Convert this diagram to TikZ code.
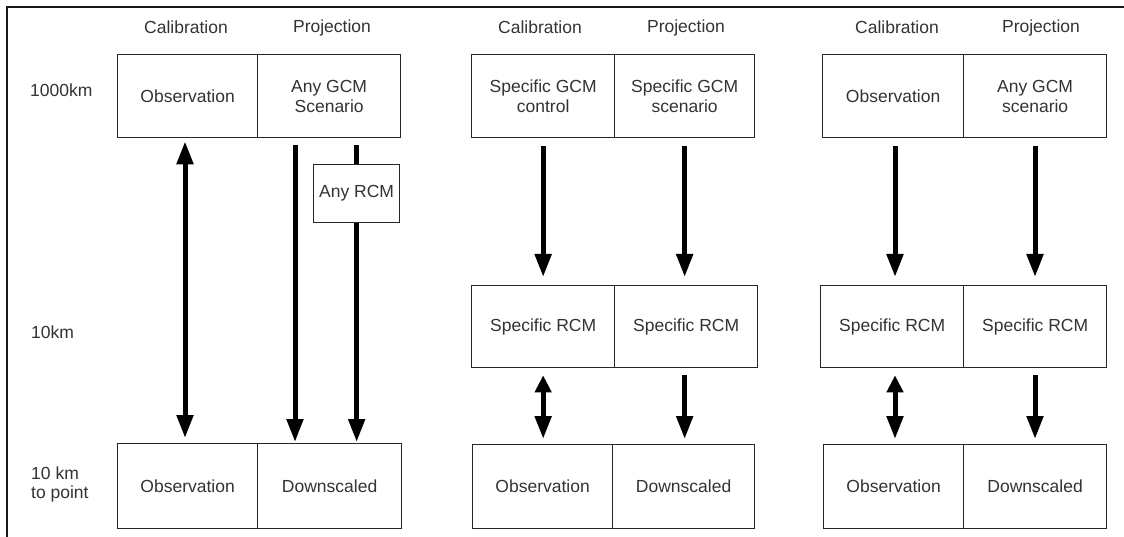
\documentclass[tikz,border=0pt]{standalone}
\usepackage{fontspec}
\setmainfont{Liberation Sans}
\usetikzlibrary{arrows.meta}
\begin{document}
\begin{tikzpicture}[x=1pt,y=-1pt,
  lbl/.style={text=black!80, font=\fontsize{17.5}{20}\selectfont, inner sep=0pt, align=left},
  box/.style={draw=black!85, line width=1.3pt, fill=white, minimum height=#1, inner sep=0pt,
    align=center, text=black!80, font=\fontsize{17.5}{20}\selectfont, anchor=north west},
  box/.default=83pt,
  arr/.style={line width=5pt, -{Triangle[width=16pt,length=23pt]}},
  plain/.style={line width=5pt},
  dbl/.style={line width=5pt, {Triangle[width=16pt,length=23pt]}-{Triangle[width=16pt,length=23pt]}},
  sdbl/.style={line width=5pt, {Triangle[width=16pt,length=17pt]}-{Triangle[width=16pt,length=23pt]}}]
\useasboundingbox (0,0) rectangle (1124,537);
% frame
\coordinate (fa) at (1124,7);
\coordinate (fc) at (7,7);
\coordinate (fb) at (7,537);
\draw[line width=2pt, black!90] (fa) -- (fc) -- (fb);

% row labels
\node[lbl, anchor=west] (l1) at (30,90) {1000km};
\node[lbl, anchor=west] (l2) at (31,332) {10km};
\node[lbl, anchor=west] (l3) at (31,484) {10 km\\[-1pt]to point};

% column headings
\node[lbl] (h1a) at (186,27) {Calibration};
\node[lbl] (h1b) at (332,28) {Projection};
\node[lbl] (h2a) at (540,27) {Calibration};
\node[lbl] (h2b) at (686,28) {Projection};
\node[lbl] (h3a) at (897,27) {Calibration};
\node[lbl] (h3b) at (1041,28) {Projection};

% ---------- panel 1 ----------
\node[box, minimum width=140pt] (p1obs) at (117,54) {Observation};
\node[box, minimum width=143pt] (p1gcm) at (257,54) {Any GCM\\Scenario};
\node[box=85pt, minimum width=140pt] (p1obsb) at (117,443) {Observation};
\node[box=85pt, minimum width=144pt] (p1down) at (257,443) {Downscaled};
\node[box=58pt, minimum width=86pt] (rcm) at (313,164) {Any RCM};
\coordinate (x185) at (185,0);
\coordinate (x295) at (295,0);
\draw[dbl, shorten <=3pt, shorten >=5pt] (p1obs.south -| x185) -- (p1obsb.north -| x185);
\draw[arr, shorten <=7pt, shorten >=1pt] (p1gcm.south -| x295) -- (p1down.north -| x295);
\draw[plain, shorten <=7pt] (p1gcm.south -| rcm) -- (rcm.north);
\draw[arr, shorten >=1pt] (rcm.south) -- (p1down.north -| rcm);

% ---------- panel 2 ----------
\node[box, minimum width=143pt] (p2ctl) at (471,54) {Specific GCM\\control};
\node[box, minimum width=140pt] (p2scn) at (614,54) {Specific GCM\\scenario};
\node[box=82pt, minimum width=143pt] (p2rcma) at (471,285) {Specific RCM};
\node[box=82pt, minimum width=143pt] (p2rcmb) at (614,285) {Specific RCM};
\node[box=84pt, minimum width=140pt] (p2obs) at (472,444) {Observation};
\node[box=84pt, minimum width=142pt] (p2down) at (612,444) {Downscaled};
\draw[arr, shorten <=8pt, shorten >=8pt] (p2ctl.south) -- (p2rcma.north -| p2ctl.south);
\draw[arr, shorten <=8pt, shorten >=8pt] (p2scn.south) -- (p2rcmb.north -| p2scn.south);
\draw[sdbl, shorten <=7pt, shorten >=5pt] (p2rcma.south -| p2ctl.south) -- (p2obs.north -| p2ctl.south);
\draw[arr, shorten <=7pt, shorten >=5pt] (p2rcmb.south -| p2scn.south) -- (p2down.north -| p2scn.south);

% ---------- panel 3 ----------
\node[box, minimum width=141pt] (p3obs) at (822,54) {Observation};
\node[box, minimum width=143pt] (p3gcm) at (963,54) {Any GCM\\scenario};
\node[box=82pt, minimum width=143pt] (p3rcma) at (820,285) {Specific RCM};
\node[box=82pt, minimum width=143pt] (p3rcmb) at (963,285) {Specific RCM};
\node[box=84pt, minimum width=140pt] (p3obsb) at (823,444) {Observation};
\node[box=84pt, minimum width=143pt] (p3down) at (963,444) {Downscaled};
\coordinate (x895) at (895,0);
\coordinate (x1035) at (1035,0);
\draw[arr, shorten <=8pt, shorten >=8pt] (p3obs.south -| x895) -- (p3rcma.north -| x895);
\draw[arr, shorten <=8pt, shorten >=8pt] (p3gcm.south -| x1035) -- (p3rcmb.north -| x1035);
\draw[sdbl, shorten <=7pt, shorten >=5pt] (p3rcma.south -| x895) -- (p3obsb.north -| x895);
\draw[arr, shorten <=7pt, shorten >=5pt] (p3rcmb.south -| x1035) -- (p3down.north -| x1035);
\end{tikzpicture}
\end{document}
